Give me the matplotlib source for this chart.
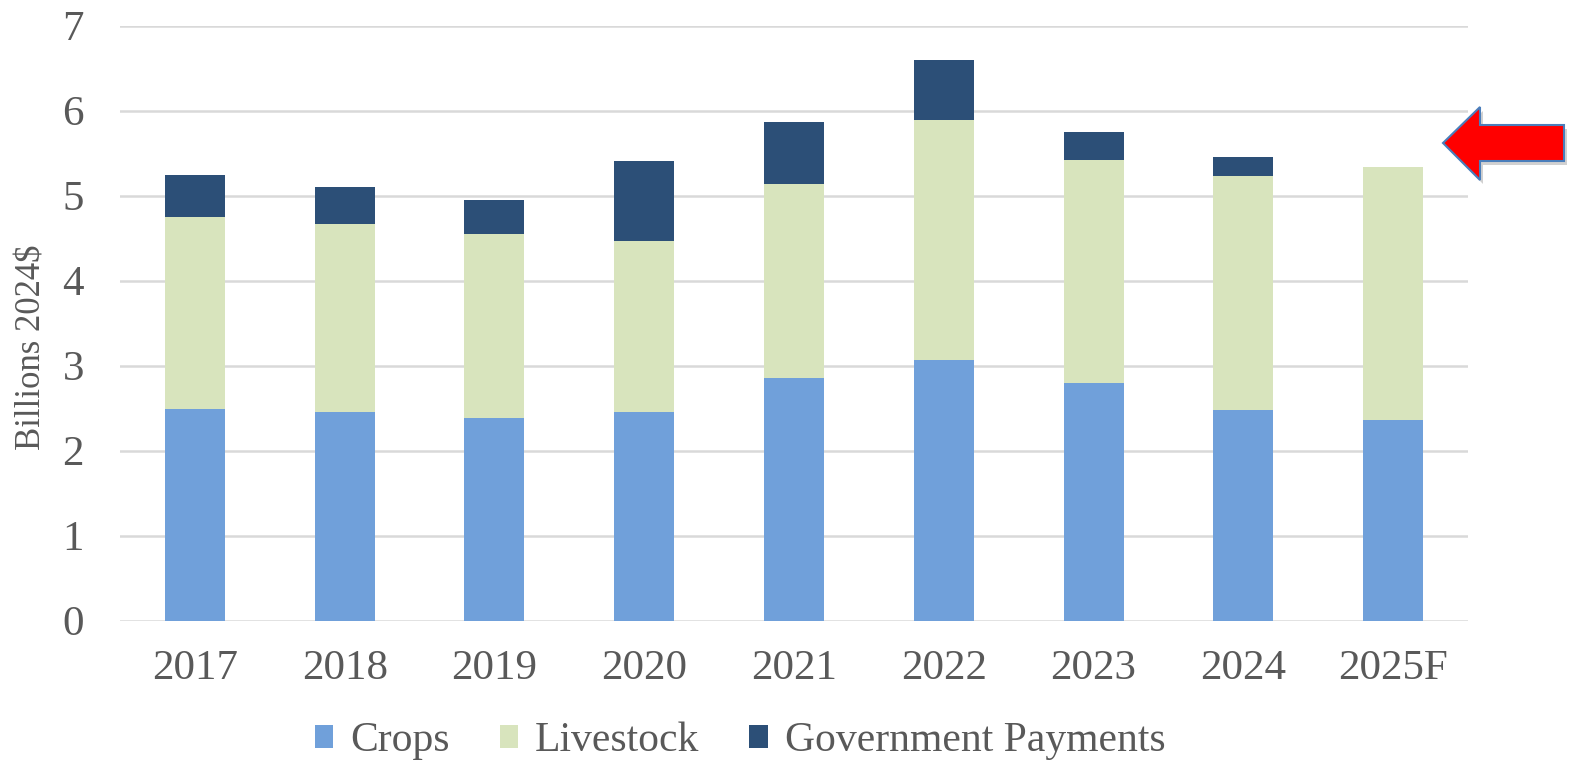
import numpy as np
import matplotlib
matplotlib.use('Agg')
import matplotlib.pyplot as plt
import matplotlib.patches as patches

years = ['2017', '2018', '2019', '2020', '2021', '2022', '2023', '2024', '2025F']
crops = [2.49, 2.46, 2.39, 2.46, 2.86, 3.07, 2.80, 2.48, 2.36]
livestock = [2.26, 2.21, 2.16, 2.01, 2.28, 2.82, 2.62, 2.75, 2.98]
gov_payments = [0.49, 0.43, 0.40, 0.94, 0.73, 0.71, 0.33, 0.23, 0.0]

c_crops = '#70a0da'
c_live = '#d8e4bd'
c_gov = '#2c4f77'
c_text = '#595959'
c_grid = '#d9d9d9'

plt.rcParams['font.family'] = ['Liberation Serif', 'DejaVu Serif']

W, H = 1575, 763
fig = plt.figure(figsize=(W / 100, H / 100), dpi=100)
ax = fig.add_axes([120 / W, 1 - 620.7 / H, (1468 - 120) / W, (620.7 - 25.7) / H])

x = np.arange(len(years))
crops = np.array(crops)
livestock = np.array(livestock)
gov_payments = np.array(gov_payments)

bw = 0.4
ax.bar(x, crops, bw, color=c_crops, label='Crops', zorder=2)
ax.bar(x, livestock, bw, bottom=crops, color=c_live, label='Livestock', zorder=2)
ax.bar(x, gov_payments, bw, bottom=crops + livestock, color=c_gov,
       label='Government Payments', zorder=2)

ax.set_xlim(-0.5, len(years) - 0.5)
ax.set_ylim(0, 7)
ax.set_yticks(range(0, 8))
ax.set_xticks(x)
ax.set_xticklabels(years)
ax.yaxis.grid(True, color=c_grid, lw=1.8, zorder=0)
ax.set_axisbelow(True)
for s in ax.spines.values():
    s.set_visible(False)
ax.tick_params(axis='both', length=0, labelsize=31, colors=c_text)
ax.tick_params(axis='y', pad=26)
ax.tick_params(axis='x', pad=21)
ax.set_ylabel('Billions 2024$', fontsize=25, color=c_text)
ax.yaxis.set_label_coords(-0.053, 0.46)

fig.legend(loc='center', bbox_to_anchor=(740 / W, 1 - 741 / H), ncol=3,
           frameon=False, fontsize=30, handlelength=0.45, handleheight=0.45,
           handletextpad=0.4, columnspacing=1.2, labelcolor=c_text)

# red arrow pointing at the 2025F forecast
def px(pts, dx=0, dy=0):
    return [((a + dx) / W, 1 - (b + dy) / H) for a, b in pts]

arrow_pts = [(1443, 143), (1480, 107), (1480, 125), (1564, 125),
             (1564, 161), (1480, 161), (1480, 180)]
shadow = patches.Polygon(px(arrow_pts, 3, 4), closed=True, transform=fig.transFigure,
                         facecolor='#9a9a9a', edgecolor='none', alpha=0.45)
arrow = patches.Polygon(px(arrow_pts), closed=True, transform=fig.transFigure,
                        facecolor='#ff0000', edgecolor='#4a7ebb', lw=1.5)
fig.patches.extend([shadow, arrow])

fig.savefig('out.png', dpi=100)
